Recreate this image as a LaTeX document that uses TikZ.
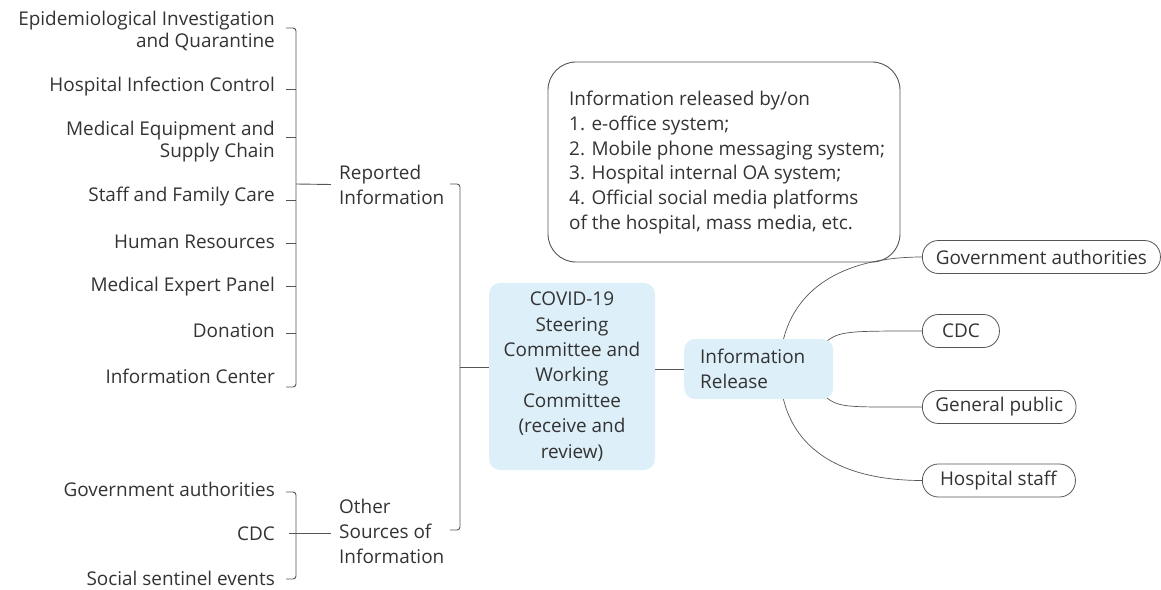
\documentclass[tikz,border=0pt]{standalone}
\usepackage{fontspec}
\setmainfont{Open Sans}
\definecolor{txt}{HTML}{333333}
\definecolor{ln}{HTML}{555555}
\definecolor{boxblue}{HTML}{DDEFF8}
\begin{document}
\begin{tikzpicture}[x=1bp,y=-1bp,
  item/.style={font=\fontsize{19}{22}\selectfont, text=txt, align=right, anchor=east, inner sep=0pt},
  lbl/.style={font=\fontsize{19}{25}\selectfont, text=txt, align=left, anchor=west, inner sep=0pt},
  conn/.style={draw=ln, line width=0.9bp},
  curve/.style={draw=ln, line width=0.7bp},
  core/.style={fill=boxblue, rounded corners=11bp, inner sep=0pt, text=txt, font=\fontsize{19}{25.5}\selectfont},
  pill/.style={draw=ln, line width=0.8bp, rounded corners=16bp, inner sep=0pt, text=txt, font=\fontsize{19}{22}\selectfont, minimum height=33bp, anchor=west},
]
\useasboundingbox (0,0) rectangle (1161,590);

% left items
\node[item] (epi) at (275,31) {Epidemiological Investigation\\and Quarantine};
\node[item] (hic) at (275,87) {Hospital Infection Control};
\node[item] (mes) at (275,142) {Medical Equipment and\\Supply Chain};
\node[item] (sfc) at (275,197) {Staff and Family Care};
\node[item] (hr)  at (275,242) {Human Resources};
\node[item] (mep) at (275,287) {Medical Expert Panel};
\node[item] (don) at (275,331) {Donation};
\node[item] (ic)  at (275,376) {Information Center};

\node[item] (ga) at (275,489) {Government authorities};
\node[item] (cdc) at (275,534) {CDC};
\node[item] (sse) at (275,578) {Social sentinel events};

% middle labels
\node[lbl] (rep) at (339,184.5) {Reported\\Information};
\node[lbl] (oth) at (339,531) {Other\\Sources of\\Information};

% bracket 1
\coordinate (b1t) at (296,28);
\coordinate (b1b) at (296,387);
\draw[conn, rounded corners=3bp] (286,28) -- (b1t) -- (b1b) -- (286,387);
\foreach \yy in {89,137,200,243,286,333}{\draw[conn] (286,\yy) -- (296,\yy);}
\draw[conn] (296,184) -- (rep.west -| 331,0);

% bracket 2
\draw[conn, rounded corners=3bp] (286,492) -- (296,492) -- (296,579) -- (286,579);
\draw[conn] (289,533) -- (331,533);

% bracket 3
\coordinate (b3) at (460,367);
\draw[conn, rounded corners=3bp] (450,184) -- (460,184) -- (460,530) -- (450,530);

% core boxes
\node[core, minimum width=166bp, minimum height=187bp, align=center] (core) at (572,376.5)
  {COVID-19\\Steering\\Committee and\\Working\\Committee\\(receive and\\review)};
\draw[conn] (b3) -- (core.west |- b3);

% right side nodes
\node[pill, minimum width=238bp] (rga) at (922,257) {\hspace*{13bp}Government authorities\hspace*{13bp}};
\node[pill, minimum width=77bp] (rcdc) at (922,331) {\hspace*{13bp}CDC\hspace*{13bp}};
\node[pill, minimum width=153bp] (rgp) at (922,407) {\hspace*{13bp}General public\hspace*{13bp}};
\node[pill, minimum width=153bp] (rhs) at (922,480.5) {\hspace*{13bp}Hospital staff\hspace*{14bp}};

% curves
\draw[curve] (rga.west) .. controls (830,257) and (780,300) .. (780,369)
  .. controls (780,440) and (830,480.5) .. (rhs.west);
\draw[curve] (827,341) .. controls (840,331) and (850,331) .. (rcdc.west);
\draw[curve] (827,398) .. controls (840,408) and (850,407) .. (rgp.west);

\node[core, minimum width=149bp, minimum height=60bp, anchor=west] (rel) at (684,369) {\hspace*{16bp}\parbox{120bp}{Information\\Release}\hspace*{13bp}};
\draw[conn] (core.east |- rel.west) -- (rel.west);

% info box
\node[draw=ln, line width=0.9bp, rounded corners=28bp, minimum width=352bp, minimum height=200bp, inner sep=0pt] (info) at (724,162) {};
\node[lbl] (infotxt) at (569,162.5) {Information released by/on\\1. e-office system;\\2. Mobile phone messaging system;\\3. Hospital internal OA system;\\4. Official social media platforms\\of the hospital, mass media, etc.};
\end{tikzpicture}
\end{document}
